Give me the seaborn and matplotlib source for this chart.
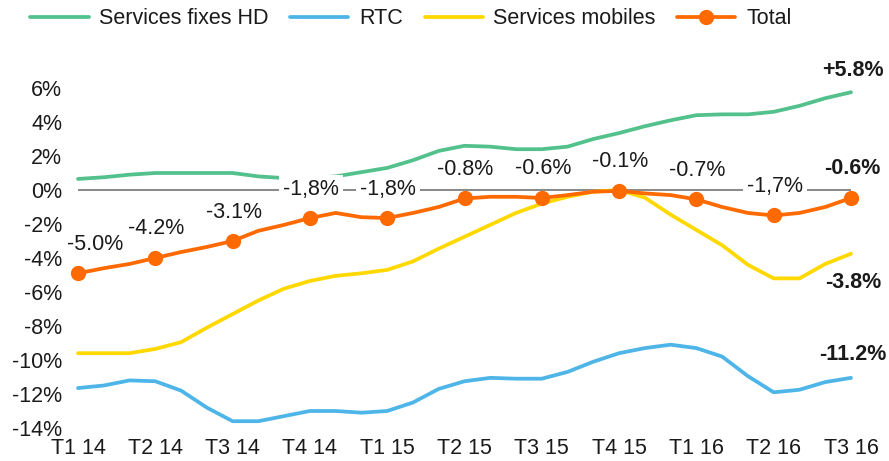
import matplotlib
matplotlib.use("Agg")
import matplotlib.pyplot as plt
import pandas as pd
import seaborn as sns

# Quarter tick labels (one data point per month, 3 per quarter)
QUARTERS = ["T1 14", "T2 14", "T3 14", "T4 14", "T1 15", "T2 15",
            "T3 15", "T4 15", "T1 16", "T2 16", "T3 16"]

# Monthly growth rates (%)
services_fixes_hd = [0.65, 0.75, 0.9, 1.0, 1.0, 1.0, 1.0, 0.8, 0.7, 0.7, 0.8,
                     1.05, 1.3, 1.75, 2.3, 2.6, 2.55, 2.4, 2.4, 2.55, 3.0,
                     3.35, 3.75, 4.1, 4.4, 4.45, 4.45, 4.6, 4.95, 5.4, 5.75]
rtc = [-11.65, -11.5, -11.2, -11.25, -11.8, -12.8, -13.6, -13.6, -13.3, -13.0,
       -13.0, -13.1, -13.0, -12.5, -11.7, -11.25, -11.05, -11.1, -11.1, -10.7,
       -10.1, -9.6, -9.3, -9.1, -9.3, -9.8, -10.95, -11.9, -11.75, -11.3, -11.05]
services_mobiles = [-9.6, -9.6, -9.6, -9.35, -8.95, -8.1, -7.3, -6.5, -5.8,
                    -5.35, -5.05, -4.9, -4.7, -4.2, -3.45, -2.75, -2.05, -1.35,
                    -0.8, -0.4, -0.1, 0.0, -0.45, -1.45, -2.35, -3.25, -4.4,
                    -5.2, -5.2, -4.35, -3.75]
total = [-4.9, -4.6, -4.35, -4.0, -3.65, -3.35, -3.0, -2.4, -2.05, -1.65,
         -1.35, -1.6, -1.65, -1.35, -1.0, -0.5, -0.4, -0.4, -0.47, -0.3, -0.1,
         -0.05, -0.2, -0.3, -0.55, -1.0, -1.35, -1.5, -1.35, -1.0, -0.47]

# Quarterly labels of the total series
total_labels = ["-5.0%", "-4.2%", "-3.1%", "-1,8%", "-1,8%", "-0.8%",
                "-0.6%", "-0.1%", "-0.7%", "-1,7%", "-0.6%"]
end_labels = {"Services fixes HD": "+5.8%", "RTC": "-11.2%",
              "Services mobiles": "-3.8%"}

COLORS = {"Services fixes HD": "#52C18B", "RTC": "#4DB5E8",
          "Services mobiles": "#FFD800", "Total": "#FF6A00"}
TEXT = "#1a1a1a"

df = pd.DataFrame({
    "mois": range(len(total)),
    "Services fixes HD": services_fixes_hd,
    "RTC": rtc,
    "Services mobiles": services_mobiles,
    "Total": total,
})

sns.set_theme(style="white")
plt.rcParams["font.family"] = ["Liberation Sans", "DejaVu Sans"]

W, H = 889, 461
fig = plt.figure(figsize=(W / 100, H / 100), dpi=100)
ax = fig.add_axes([78 / W, 33 / H, 773 / W, 340 / H])

# zero line
ax.axhline(0, color="#7f7f7f", lw=1.3, zorder=1)

for name in ["Services fixes HD", "RTC", "Services mobiles"]:
    sns.lineplot(data=df, x="mois", y=name, ax=ax, color=COLORS[name],
                 lw=2.7, label=name, clip_on=False, zorder=2)

sns.lineplot(data=df, x="mois", y="Total", ax=ax, color=COLORS["Total"],
             lw=2.7, label="Total", marker="o", markersize=11,
             markeredgewidth=0, markevery=3, clip_on=False, zorder=3)

# labels on the total series
quarter_idx = list(range(0, len(total), 3))
for k, (i, txt) in enumerate(zip(quarter_idx, total_labels)):
    last = k == len(total_labels) - 1
    dx = 17 if k == 0 else 1
    ax.annotate(txt, (i, total[i]), xytext=(dx, 29), textcoords="offset pixels",
                ha="center", va="center", fontsize=15.5, color=TEXT,
                fontweight="bold" if last else "normal", zorder=5,
                bbox=dict(boxstyle="square,pad=0.18", fc="white", ec="none"))

# end-of-line labels
offsets = {"Services fixes HD": 22, "RTC": 23, "Services mobiles": -29}
series = {"Services fixes HD": services_fixes_hd, "RTC": rtc,
          "Services mobiles": services_mobiles}
for name, txt in end_labels.items():
    ax.annotate(txt, (len(total) - 1, series[name][-1]), xytext=(2, offsets[name]),
                textcoords="offset pixels", ha="center", va="center",
                fontsize=15.5, fontweight="bold", color=TEXT, zorder=5)

ax.set_xlim(0, len(total) - 1)
ax.set_ylim(-14, 6)
ax.set_xticks(quarter_idx)
ax.set_xticklabels(QUARTERS)
yt = list(range(-14, 7, 2))
ax.set_yticks(yt)
ax.set_yticklabels([f"{v}%" for v in yt])
ax.tick_params(axis="both", length=0, labelsize=15.5, labelcolor=TEXT)
ax.tick_params(axis="y", pad=11.5)
ax.tick_params(axis="x", pad=7.5)
ax.set_xlabel("")
ax.set_ylabel("")
sns.despine(ax=ax, left=True, bottom=True)
ax.grid(False)

handles, labels = ax.get_legend_handles_labels()
ax.get_legend().remove()
fig.legend(handles, labels, loc="center", bbox_to_anchor=(411 / W, 1 - 19 / H),
           ncol=4, frameon=False, fontsize=15.5, handlelength=2.7,
           handletextpad=0.5, columnspacing=1.0, labelcolor=TEXT)

fig.savefig("out.png", dpi=100)
